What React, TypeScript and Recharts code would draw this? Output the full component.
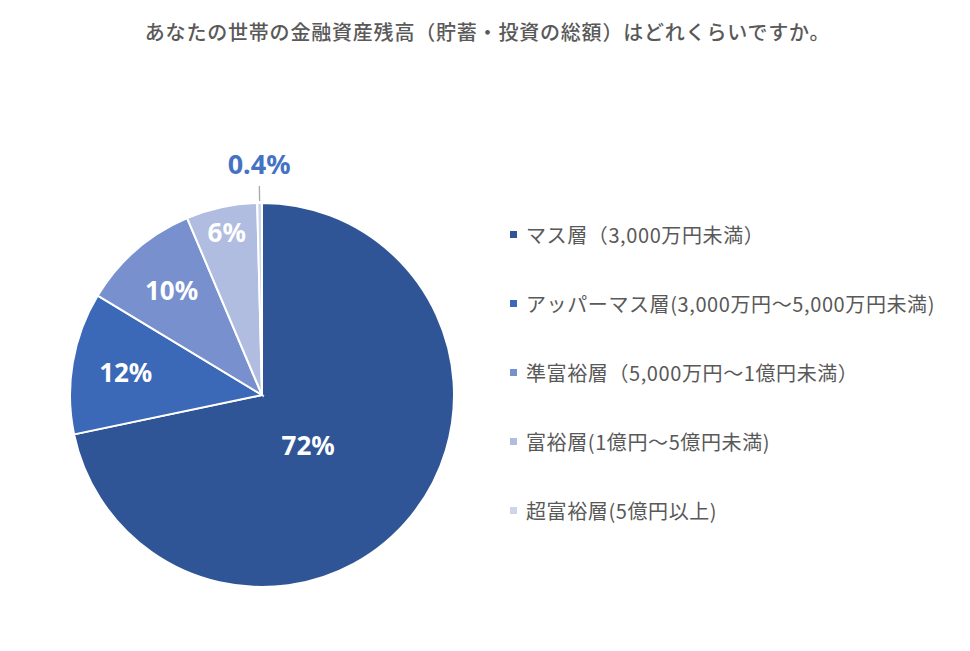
import React from "react";
import { PieChart, Pie, Cell } from "recharts";

const TITLE = "あなたの世帯の金融資産残高（貯蓄・投資の総額）はどれくらいですか。";

const categories = [
  "マス層（3,000万円未満）",
  "アッパーマス層(3,000万円～5,000万円未満)",
  "準富裕層（5,000万円～1億円未満）",
  "富裕層(1億円～5億円未満)",
  "超富裕層(5億円以上)",
];
const shares = [72, 12, 10, 6, 0.4];
const valueLabels = ["72%", "12%", "10%", "6%", "0.4%"];
const colors = ["#2F5597", "#3C68B8", "#7891CE", "#B0BCE0", "#CDD5EC"];

const data = categories.map((name, i) => ({ name, value: shares[i], label: valueLabels[i] }));

const RAD = Math.PI / 180;
const FONT = "'Noto Sans', 'Noto Sans CJK JP', sans-serif";
const CJK = "'Noto Sans CJK JP', sans-serif";

// white labels inside slices, the tiny slice gets an outside label with a leader line
function renderLabel(props: any) {
  const { cx, cy, midAngle, outerRadius, percent, index } = props;
  const cos = Math.cos(-midAngle * RAD);
  const sin = Math.sin(-midAngle * RAD);
  const text = data[index].label;
  if (percent < 0.02) {
    const x1 = cx + outerRadius * cos;
    const y1 = cy + outerRadius * sin;
    const x2 = cx + (outerRadius + 17) * cos;
    const y2 = cy + (outerRadius + 17) * sin;
    const tx = cx + (outerRadius + 40) * cos;
    const ty = cy + (outerRadius + 40) * sin;
    return (
      <g>
        <line x1={x1} y1={y1 - 2} x2={x2} y2={y2} stroke="#A6A6A6" strokeWidth={1.3} />
        <text x={tx} y={ty} textAnchor="middle" dominantBaseline="central" fill="#4472C4" fontFamily={FONT} fontWeight={700} fontSize={27}>
          {text}
        </text>
      </g>
    );
  }
  const big = percent > 0.5;
  const f = big ? 0.35 : percent < 0.08 ? 0.87 : 0.72;
  const x = cx + outerRadius * f * cos - (big ? 6 : 0);
  const y = cy + outerRadius * f * sin + (big ? 8 : 0);
  return (
    <text x={x} y={y} textAnchor="middle" dominantBaseline="central" fill="#FFFFFF" fontFamily={FONT} fontWeight={700} fontSize={26}>
      {text}
    </text>
  );
}

export default function App() {
  return (
    <div style={{ position: "absolute", left: 0, top: 0, width: 970, height: 651, background: "#fff" }}>
      <div
        style={{
          position: "absolute",
          top: 17,
          left: 0,
          width: 975,
          textAlign: "center",
          fontFamily: CJK,
          fontSize: 20,
          letterSpacing: 0.8,
          fontWeight: 500,
          color: "#595959",
        }}
      >
        {TITLE}
      </div>
      <PieChart width={970} height={651} margin={{ top: 0, right: 0, bottom: 0, left: 0 }}>
        <Pie
          data={data}
          dataKey="value"
          nameKey="name"
          cx={262}
          cy={395}
          outerRadius={192}
          startAngle={90}
          endAngle={-270}
          stroke="#FFFFFF"
          strokeWidth={2}
          label={renderLabel}
          labelLine={false}
          isAnimationActive={false}
        >
          {data.map((d, i) => (
            <Cell key={d.name} fill={colors[i]} />
          ))}
        </Pie>
      </PieChart>
      <div style={{ position: "absolute", left: 510, top: 200, fontFamily: CJK, fontSize: 20, letterSpacing: 0.6, color: "#595959" }}>
        {categories.map((c, i) => (
          <div key={c} style={{ display: "flex", alignItems: "center", height: 69, whiteSpace: "nowrap" }}>
            <span style={{ display: "inline-block", width: 7, height: 7, background: colors[i], marginRight: 9 }} />
            <span>{c}</span>
          </div>
        ))}
      </div>
    </div>
  );
}
